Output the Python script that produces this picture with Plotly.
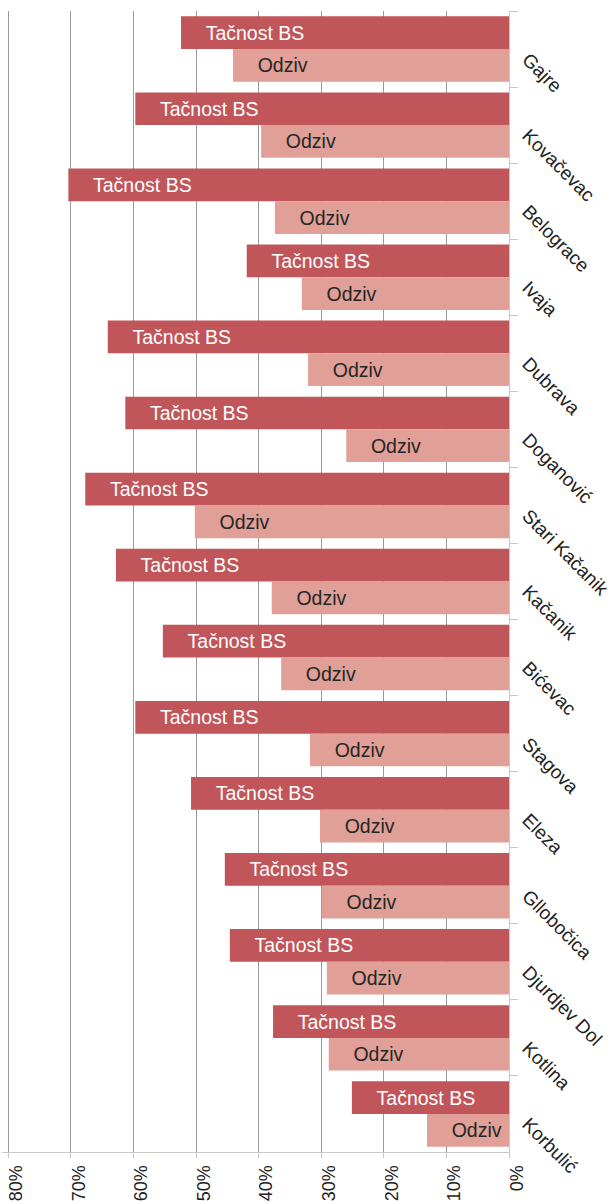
import plotly.graph_objects as go

categories = ["Gajre", "Kovačevac", "Belograce", "Ivaja", "Dubrava", "Doganović",
              "Stari Kačanik", "Kačanik", "Bićevac", "Stagova", "Eleza", "Gllobočica",
              "Djurdjev Dol", "Kotlina", "Korbulić"]
tacnost = [52.4, 59.7, 70.4, 41.9, 64.1, 61.3, 67.7, 62.8, 55.3, 59.7, 50.8, 45.4, 44.6, 37.7, 25.1]
odziv = [44.1, 39.6, 37.4, 33.1, 32.1, 26.0, 50.2, 37.9, 36.4, 31.8, 30.2, 29.9, 29.1, 28.8, 13.1]
series_names = ["Tačnost BS", "Odziv"]
x_ticks = [0, 10, 20, 30, 40, 50, 60, 70, 80]

FONT = "Liberation Sans, Arial, sans-serif"
pad = "\u00a0" * 4

fig = go.Figure()
fig.add_trace(go.Bar(
    y=categories, x=tacnost, orientation="h", name=series_names[0],
    marker=dict(color="#C0565A", line=dict(width=0)),
    text=[pad + series_names[0]] * len(categories),
    textposition="inside", insidetextanchor="end",
    insidetextfont=dict(color="white", size=19.5, family=FONT),
    hoverinfo="x+y",
))
fig.add_trace(go.Bar(
    y=categories, x=odziv, orientation="h", name=series_names[1],
    marker=dict(color="#E0A097", line=dict(width=0)),
    text=[pad + series_names[1]] * len(categories),
    textposition="inside", insidetextanchor="end",
    insidetextfont=dict(color="#262626", size=19.5, family=FONT),
    hoverinfo="x+y",
))

fig.update_layout(
    width=612, height=1204,
    margin=dict(l=2, r=103, t=11, b=52),
    paper_bgcolor="white", plot_bgcolor="white",
    barmode="group", bargap=0.14, bargroupgap=0,
    showlegend=False,
    font=dict(family=FONT, size=17, color="#222"),
    xaxis=dict(
        range=[81, 0], tickvals=x_ticks, ticktext=[f"{v}%" for v in x_ticks],
        tickangle=-90, showgrid=True, gridcolor="#9a9a9a", gridwidth=1,
        zeroline=False, showline=True, linecolor="#c8c8c8", linewidth=1,
        ticks="outside", ticklen=5, tickcolor="#c8c8c8",
        tickfont=dict(size=18, color="#222", family=FONT),
        ticklabelshift=-8, ticklabeloverflow="allow", automargin=False,
    ),
    yaxis=dict(
        type="category", autorange="reversed", side="right",
        tickson="boundaries", ticks="outside", ticklen=8, tickcolor="#c8c8c8",
        showline=True, linecolor="#c8c8c8", linewidth=1, showgrid=False,
        tickangle=45, tickfont=dict(size=19, color="#222", family=FONT),
        ticklabelstandoff=14, ticklabelshift=-8, automargin=False,
    ),
)

fig.write_html("out.html", config={"displayModeBar": False},
               post_script="document.body.style.margin='0';")
